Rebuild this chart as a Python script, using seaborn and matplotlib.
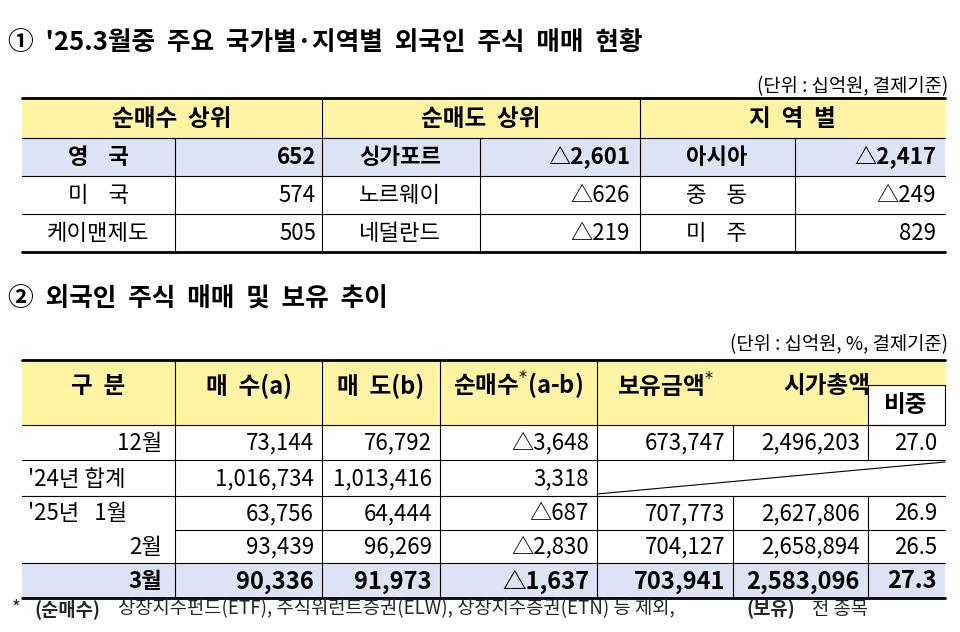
import matplotlib
matplotlib.use("Agg")
import matplotlib.pyplot as plt
import seaborn as sns
from matplotlib.patches import Rectangle

sns.set_theme(style="white")
plt.rcParams['font.family'] = ['Noto Sans CJK KR', 'DejaVu Sans']

# table 1 data
buy_names = ["영    국", "미    국", "케이맨제도"]
buy_vals = ["652", "574", "505"]
sell_names = ["싱가포르", "노르웨이", "네덜란드"]
sell_vals = ["△2,601", "△626", "△219"]
reg_names = ["아시아", "중    동", "미    주"]
reg_vals = ["△2,417", "△249", "829"]

# table 2 data
periods = ["12월", "'24년 합계", "'25년   1월", "2월", "3월"]
buys = ["73,144", "1,016,734", "63,756", "93,439", "90,336"]
sells = ["76,792", "1,013,416", "64,444", "96,269", "91,973"]
nets = ["△3,648", "3,318", "△687", "△2,830", "△1,637"]
holds = ["673,747", "", "707,773", "704,127", "703,941"]
mcaps = ["2,496,203", "", "2,627,806", "2,658,894", "2,583,096"]
shares = ["27.0", "", "26.9", "26.5", "27.3"]

YEL = "#FFF4A3"
LAV = "#DDE2F4"

fig = plt.figure(figsize=(9.6, 6.32), dpi=100)
ax = fig.add_axes([0, 0, 1, 1])
ax.set_xlim(0, 960)
ax.set_ylim(632, 0)
ax.axis("off")

def box(x0, y0, x1, y1, fc):
    ax.add_patch(Rectangle((x0, y0), x1 - x0, y1 - y0, facecolor=fc, edgecolor="none"))

def hl(y, x0, x1, lw=0.8):
    ax.plot([x0, x1], [y, y], color="black", lw=lw)

def vl(x, y0, y1, lw=0.8):
    ax.plot([x, x], [y0, y1], color="black", lw=lw)

def txt(x, y, s, ha="center", bold=False, size=16):
    ax.text(x, y + 1, s, ha=ha, va="center", fontsize=size,
            fontweight="bold" if bold else "normal", color="black")

# titles
txt(8, 42, "①  '25.3월중  주요  국가별·지역별  외국인  주식  매매  현황", ha="left", bold=True, size=18.5)
txt(948, 86, "(단위 : 십억원, 결제기준)", ha="right", size=13.5)

# table 1
rows = [98, 138, 176, 214, 252]
box(22, 98, 945, 138, YEL)
box(22, 138, 945, 176, LAV)
txt(172, 118, "순매수  상위", bold=True, size=17)
txt(481, 118, "순매도  상위", bold=True, size=17)
txt(792, 118, "지  역  별", bold=True, size=17)
for i in range(3):
    yc = (rows[i + 1] + rows[i + 2]) / 2
    b = i == 0
    txt(98, yc, buy_names[i], bold=b)
    txt(316, yc, buy_vals[i], ha="right", bold=b)
    txt(400, yc, sell_names[i], bold=b)
    txt(630, yc, sell_vals[i], ha="right", bold=b)
    txt(717, yc, reg_names[i], bold=b)
    txt(936, yc, reg_vals[i], ha="right", bold=b)
hl(98, 22, 945, 2)
hl(252, 22, 945, 2)
for y in rows[1:-1]:
    hl(y, 22, 945)
for x in [322, 640]:
    vl(x, 98, 252)
for x in [175, 480, 795]:
    vl(x, 138, 252)

# table 2
txt(8, 298, "②  외국인  주식  매매  및  보유  추이", ha="left", bold=True, size=18.5)
txt(948, 344, "(단위 : 십억원, %, 결제기준)", ha="right", size=13.5)
dx = [22, 175, 322, 440, 597, 733, 868, 945]
ry = [360, 425, 460, 496, 530, 563, 598]
box(22, 360, 945, 425, YEL)
box(22, 563, 945, 598, LAV)
heads = ["구  분", "매  수(a)", "매  도(b)", "순매수$^{*}$(a-b)", "보유금액$^{*}$"]
for j, h in enumerate(heads):
    txt((dx[j] + dx[j + 1]) / 2, 385, h, bold=True, size=17)
txt((733 + 945) / 2 - 12, 385, "시가총액", bold=True, size=17)
ax.add_patch(Rectangle((868, 385), 77, 40, facecolor="white", edgecolor="black", lw=0.8))
txt(906, 404, "비중", bold=True, size=17)
cols = [buys, sells, nets, holds, mcaps, shares]
for i in range(5):
    yc = (ry[i + 1] + ry[i + 2]) / 2
    b = i == 4
    if i in (1, 2):
        txt(28, yc, periods[i], ha="left", bold=b)
    else:
        txt(162, yc, periods[i], ha="right", bold=b)
    for j, c in enumerate(cols):
        if c[i]:
            txt(dx[j + 2] - 8, yc, c[i], ha="right", bold=b, size=17 if b else 16)
hl(360, 22, 945, 2)
hl(598, 22, 945, 2)
hl(425, 22, 945)
hl(460, 22, 945)
hl(496, 22, 945)
hl(530, 175, 945)
hl(563, 22, 945)
for x in dx[1:4]:
    vl(x, 360, 598)
vl(597, 360, 598)
vl(733, 425, 460)
vl(733, 496, 598)
vl(868, 425, 460)
vl(868, 496, 598)
ax.plot([597, 945], [494, 462], color="black", lw=0.8)

ax.text(12, 609, "*", ha="left", va="center", fontsize=13.5)
ax.text(34, 609, "(순매수)", ha="left", va="center", fontsize=13.5, fontweight="bold")
ax.text(118, 609, "상장지수펀드(ETF), 주식워런트증권(ELW), 상장지수증권(ETN) 등 제외,",
        ha="left", va="center", fontsize=13.5)
ax.text(746, 609, "(보유)", ha="left", va="center", fontsize=13.5, fontweight="bold")
ax.text(812, 609, "전 종목", ha="left", va="center", fontsize=13.5)

fig.savefig("out.png", dpi=100)
